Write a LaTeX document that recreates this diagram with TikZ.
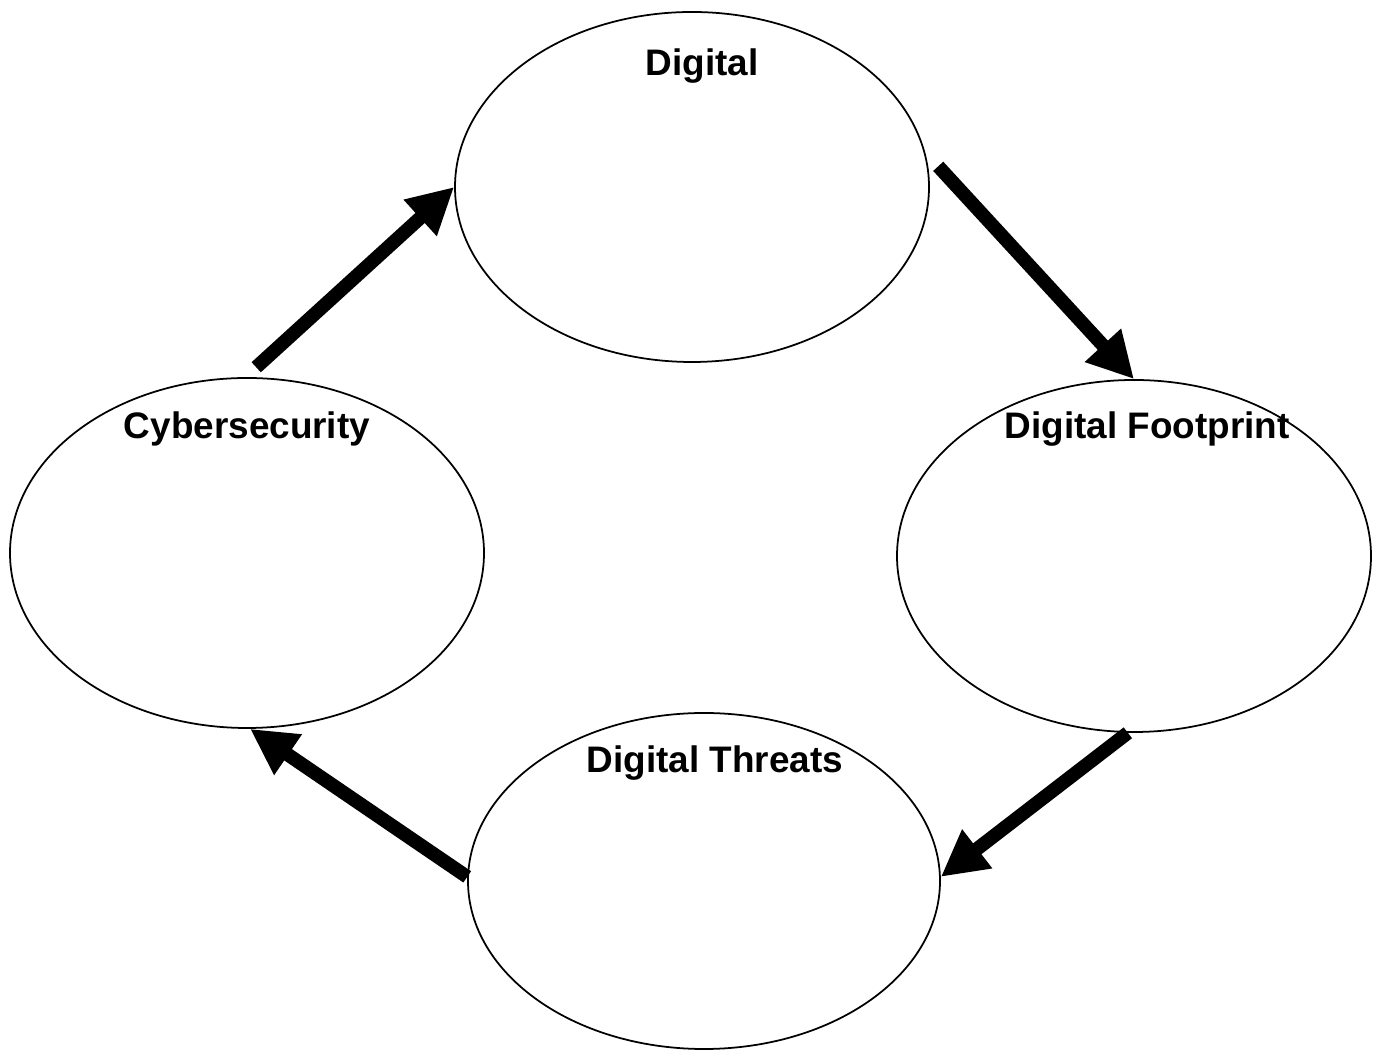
\documentclass[tikz,border=0pt]{standalone}
\usepackage{fontspec}
\setmainfont{Liberation Sans}
\usepackage{tikz}
\usetikzlibrary{shapes.geometric, arrows.meta, positioning, calc}

\begin{document}
\begin{tikzpicture}[
    stagebubble/.style={draw, ellipse, line width=0.5pt, minimum width=4.74cm, minimum height=3.5cm, inner sep=0pt},
    stagelbl/.style={anchor=base, font=\fontsize{10.5}{12}\selectfont\bfseries, inner sep=0pt},
    cyclearrow/.style={-{Triangle[length=4.6mm, width=4.6mm]}, line width=3.9pt}
]
    \useasboundingbox (0, 0) rectangle (13.8, 10.51);

    % Bubbles
    \node[stagebubble] (digital) at (6.92, 8.64) {};
    \node[stagebubble, minimum height=3.52cm] (footprint) at (11.34, 4.95) {};
    \node[stagebubble, minimum width=4.72cm, minimum height=3.36cm] (threats) at (7.04, 1.70) {};
    \node[stagebubble] (cyber) at (2.47, 4.98) {};

    % Titles
    \node[stagelbl] (digitallbl) at (7.02, 9.75) {Digital};
    \node[stagelbl] (footprintlbl) at (11.47, 6.12) {Digital Footprint};
    \node[stagelbl] (threatslbl) at (7.15, 2.78) {Digital Threats};
    \node[stagelbl] (cyberlbl) at (2.47, 6.12) {Cybersecurity};

    % Cycle
    \draw[cyclearrow] ([xshift=1mm]digital.5) -- (footprint.north);
    \draw[cyclearrow] (footprint.-92) -- (threats.1);
    \draw[cyclearrow] (threats.179) -- (cyber.-89);
    \draw[cyclearrow] ([yshift=1mm]cyber.87) -- (digital.west);

\end{tikzpicture}
\end{document}
